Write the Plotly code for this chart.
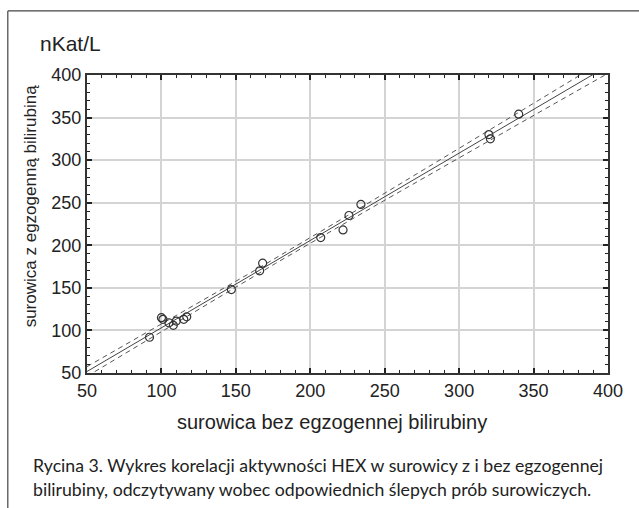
import numpy as np
import plotly.graph_objects as go

# Data (nKat/L)
x_bez = [92, 100, 101, 105, 108, 110, 115, 117, 147, 166, 168, 207, 222, 226, 234, 320, 321, 340]
y_z = [92, 115, 113, 109, 106, 111, 113, 116, 148, 170, 179, 209, 218, 235, 248, 330, 325, 354]
tick_vals = [50, 100, 150, 200, 250, 300, 350, 400]

unit_label = "nKat/L"
x_title = "surowica bez egzogennej bilirubiny"
y_title = "surowica z egzogenną bilirubiną"
caption_lines = ["Rycina 3. Wykres korelacji aktywności HEX w surowicy z i bez egzogennej",
                 "bilirubiny, odczytywany wobec odpowiednich ślepych prób surowiczych."]

xa = np.array(x_bez, float)
ya = np.array(y_z, float)
n = len(xa)
b, a = np.polyfit(xa, ya, 1)
res = ya - (a + b * xa)
s = np.sqrt(np.sum(res ** 2) / (n - 2))
sxx = np.sum((xa - xa.mean()) ** 2)
t = 2.12
xl = np.linspace(50, 400, 200)
yl = a + b * xl
se = s * np.sqrt(1 / n + (xl - xa.mean()) ** 2 / sxx)
up = yl + t * se
lo = yl - t * se

fig = go.Figure()
fig.add_trace(go.Scatter(x=xl, y=yl, mode="lines", line=dict(color="#444", width=1), hoverinfo="skip"))
fig.add_trace(go.Scatter(x=xl, y=up, mode="lines", line=dict(color="#555", width=1, dash="5px,4px"), hoverinfo="skip"))
fig.add_trace(go.Scatter(x=xl, y=lo, mode="lines", line=dict(color="#555", width=1, dash="5px,4px"), hoverinfo="skip"))
fig.add_trace(go.Scatter(x=x_bez, y=y_z, mode="markers",
                         marker=dict(symbol="circle-open", size=8, color="#333", line=dict(width=1.2))))

font_ax = "Liberation Sans, Arial, sans-serif"
common = dict(range=[50, 400], tickvals=tick_vals, showgrid=True, gridcolor="#d4d4d4", gridwidth=1.5,
              showline=True, linecolor="#333", linewidth=2, mirror="allticks",
              ticks="inside", ticklen=5, tickwidth=1.5, tickcolor="#222",
              minor=dict(dtick=10, ticks="inside", ticklen=3, tickwidth=1, tickcolor="#222", showgrid=False),
              zeroline=False, tickfont=dict(family=font_ax, size=18, color="#222"))

fig.update_layout(
    width=639, height=508,
    margin=dict(l=87, r=31, t=75, b=135),
    paper_bgcolor="white", plot_bgcolor="white",
    showlegend=False,
    xaxis=dict(**common),
    yaxis=dict(**common),
)

fig.add_annotation(text=x_title, xref="paper", yref="paper", x=0.47, y=-0.164,
                   xanchor="center", yanchor="middle", showarrow=False,
                   font=dict(family=font_ax, size=20, color="#222"))
fig.add_annotation(text=y_title, xref="paper", yref="paper", x=-0.109, y=0.56, textangle=-90,
                   xanchor="center", yanchor="middle", showarrow=False,
                   font=dict(family=font_ax, size=17, color="#222"))
fig.add_annotation(text=unit_label, xref="paper", yref="paper", x=-0.095, y=1.062,
                   xanchor="left", yanchor="bottom", showarrow=False,
                   font=dict(family=font_ax, size=21, color="#222"))
for i, line in enumerate(caption_lines):
    fig.add_annotation(text=line, xref="paper", yref="paper", x=-0.107, y=-0.268 - i * 0.081,
                       xanchor="left", yanchor="top", showarrow=False, align="left",
                       font=dict(family="Lato, Open Sans, sans-serif", size=17.7, color="#222"))

# outer frame (top and left edges)
fig.add_shape(type="line", xref="paper", yref="paper", x0=-0.152, x1=1.1, y0=1.215, y1=1.215,
              line=dict(color="#444", width=1.2))
fig.add_shape(type="line", xref="paper", yref="paper", x0=-0.152, x1=-0.152, y0=1.215, y1=-0.5,
              line=dict(color="#444", width=1.2))

fig.write_html("out.html")
